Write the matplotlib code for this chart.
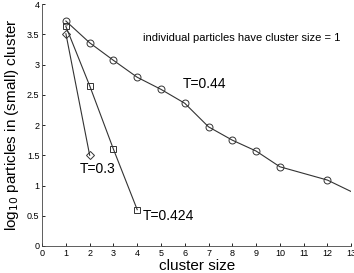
import matplotlib
matplotlib.use('Agg')
import matplotlib.pyplot as plt

matplotlib.rcParams['font.family'] = ['Liberation Sans', 'DejaVu Sans']

# cluster size vs log10 particles, three temperatures
x_044 = [1, 2, 3, 4, 5, 6, 7, 8, 9, 10, 12, 13]
y_044 = [3.72, 3.36, 3.07, 2.79, 2.59, 2.36, 1.97, 1.75, 1.57, 1.31, 1.09, 0.90]
x_0424 = [1, 2, 3, 4]
y_0424 = [3.63, 2.65, 1.60, 0.60]
x_03 = [1, 2]
y_03 = [3.51, 1.50]

fig = plt.figure(figsize=(3.54, 2.73), dpi=100)
ax = fig.add_axes([0.119, 0.099, 0.873, 0.886])

lc = '#333333'
ax.plot(x_044, y_044, color=lc, lw=0.8, marker='o', ms=5, mfc='none', mec=lc,
        mew=0.7, markevery=list(range(len(x_044) - 1)))
ax.plot(x_0424, y_0424, color=lc, lw=0.8, marker='s', ms=4, mfc='none', mec=lc, mew=0.7)
ax.plot(x_03, y_03, color=lc, lw=0.8, marker='D', ms=4, mfc='none', mec=lc, mew=0.7)

ax.text(5.93, 2.61, 'T=0.44', fontsize=10)
ax.text(1.6, 1.2, 'T=0.3', fontsize=10)
ax.text(4.25, 0.43, 'T=0.424', fontsize=10)
ax.text(4.25, 3.39, 'individual particles have cluster size = 1', fontsize=8)

ax.set_xlim(0, 13)
ax.set_ylim(0, 4)
ax.set_xticks(range(0, 14))
ax.set_yticks([0, 0.5, 1, 1.5, 2, 2.5, 3, 3.5, 4])
ax.set_yticklabels(['0', '0.5', '1', '1.5', '2', '2.5', '3', '3.5', '4'])
ax.tick_params(direction='in', length=2.5, width=0.6, labelsize=6.5, pad=2)
ax.spines['top'].set_visible(False)
ax.spines['right'].set_visible(False)
for s in ('left', 'bottom'):
    ax.spines[s].set_linewidth(0.6)
    ax.spines[s].set_color('#444444')

ax.set_xlabel('cluster size', fontsize=11, labelpad=1)
ax.set_ylabel(r'log$_{10}$ particles in (small) cluster', fontsize=11, labelpad=4)

fig.savefig('out.png', dpi=100)
